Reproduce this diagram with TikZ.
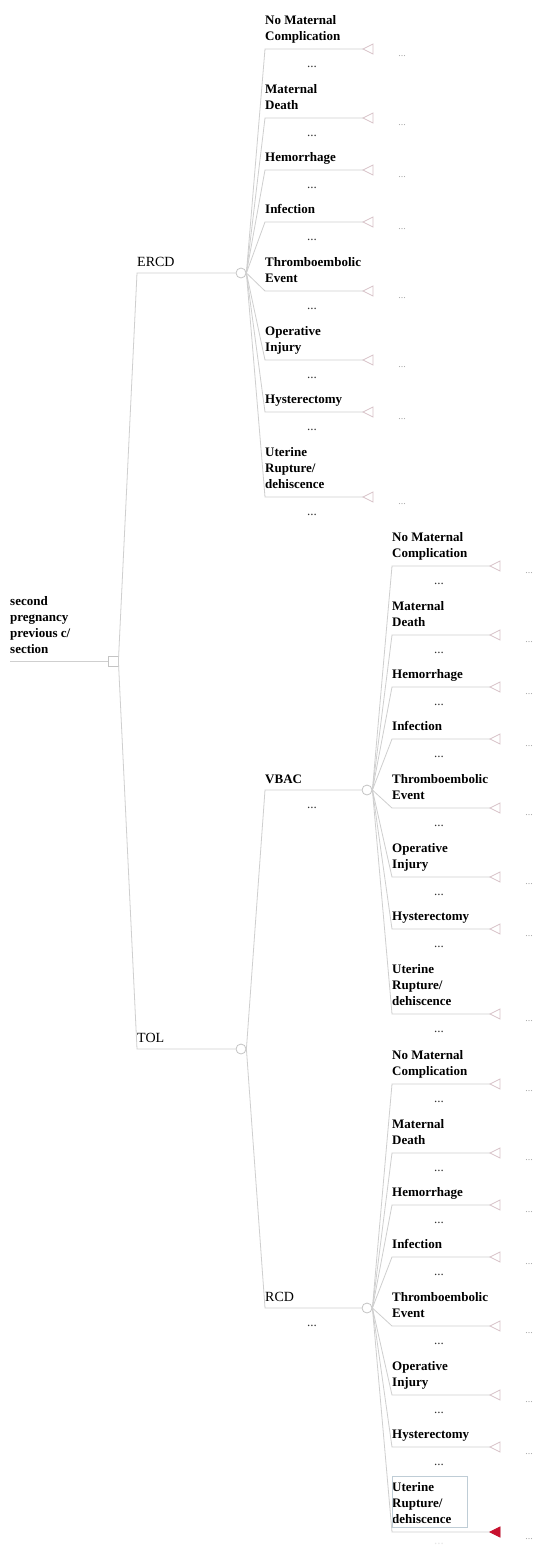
\documentclass[tikz,border=0pt]{standalone}
\usepackage{fontspec}
\setmainfont{Liberation Serif}
\definecolor{linecol}{HTML}{CFCFCF}
\definecolor{tricol}{HTML}{D8C3C9}
\definecolor{nodecol}{HTML}{C4C4C4}
\definecolor{dotcol}{HTML}{A8A8A8}
\definecolor{darkdot}{HTML}{333333}
\definecolor{faintdot}{HTML}{E6E6E6}
\definecolor{redtri}{HTML}{C8102E}
\definecolor{selbox}{HTML}{BFCDD6}
\tikzset{
  br/.style={draw=linecol, line width=0.8pt},
  term/.style={draw=tricol, line width=0.8pt, line join=miter},
  lbl/.style={anchor=base west, inner sep=0pt, align=left, font=\bfseries\fontsize{13}{16}\selectfont},
  lblr/.style={anchor=base west, inner sep=0pt, align=left, font=\fontsize{14}{16}\selectfont},
  chance/.style={circle, draw=nodecol, fill=white, minimum size=10pt, inner sep=0pt, line width=0.8pt},
  decis/.style={rectangle, draw=nodecol, fill=white, minimum size=10pt, inner sep=0pt, line width=0.8pt},
  rdots/.style={font=\fontsize{10}{12}\selectfont, text=dotcol, inner sep=0pt},
  bdots/.style={font=\fontsize{13}{16}\selectfont, inner sep=0pt},
}
\newcommand\mkgroup[6]{%
  \foreach \i/\off/\txt in {1/0/{No Maternal\\Complication}, 2/69/{Maternal\\Death}, 3/121/{Hemorrhage}, 4/173/{Infection}, 5/242/{Thromboembolic\\Event}, 6/311/{Operative\\Injury}, 7/363/{Hysterectomy}, 8/448/{Uterine\\Rupture/\\dehiscence}}{
    \pgfmathsetmacro\L{#3+\off}
    \ifnum\i=8 \def\bc{#5}\def\bo{#6}\else\def\bc{darkdot}\def\bo{18}\fi
    \coordinate (#1s\i) at (#2,\L);
    \coordinate (#1a\i) at (#2+98,\L);
    \node[lbl] (#1l\i) at (#2,\L-8.5) {\txt};
    \draw[br] (#4.east) -- (#1s\i) -- (#1a\i);
    \draw[term] (#1a\i) -- ++(10,-5) -- ++(0,10) -- cycle;
    \node[rdots] (#1r\i) at (#2+137,\L+7) {...};
    \node[bdots, text=\bc] (#1b\i) at (#2+47,\L+\bo) {...};
  }%
}
\begin{document}
\begin{tikzpicture}[x=1pt,y=-1pt]
\useasboundingbox[fill=white] (0,0) rectangle (535,1550);
% root
\coordinate (rootstart) at (10,661);
\node[decis] (root) at (113,661) {};
\node[lbl] (rootlbl) at (10,653) {second\\pregnancy\\previous c/\\section};
\draw[br] (rootstart) -- (root.west);
% ERCD
\coordinate (es0) at (137,273);
\node[chance] (ercd) at (241,273) {};
\node[lblr] (ercdlbl) at (137,266) {ERCD};
\draw[br] (root.east) -- (es0) -- (ercd.west);
% TOL
\coordinate (ts0) at (137,1049);
\node[chance] (tol) at (241,1049) {};
\node[lblr] (tollbl) at (137,1042) {TOL};
\draw[br] (root.east) -- (ts0) -- (tol.west);
% VBAC
\coordinate (vs0) at (265,790);
\node[chance] (vbac) at (367,790) {};
\node[lbl] (vbaclbl) at (265,783) {VBAC};
\node[bdots, text=darkdot] (vbacdots) at (312,808) {...};
\draw[br] (tol.east) -- (vs0) -- (vbac.west);
% RCD
\coordinate (rs0) at (265,1308);
\node[chance] (rcd) at (367,1308) {};
\node[lblr] (rcdlbl) at (265,1301) {RCD};
\node[bdots, text=darkdot] (rcddots) at (312,1326) {...};
\draw[br] (tol.east) -- (rs0) -- (rcd.west);
% children
\mkgroup{e}{265}{49}{ercd}{darkdot}{18}
\mkgroup{v}{392}{566}{vbac}{darkdot}{18}
\mkgroup{r}{392}{1084}{rcd}{faintdot}{12}
% selected terminal
\draw[fill=redtri, draw=redtri, line width=0.8pt] (ra8) -- ++(10,-5) -- ++(0,10) -- cycle;
\draw[draw=selbox, line width=0.7pt] (rs8) ++(0,-56) rectangle ++(75,51);
\end{tikzpicture}
\end{document}
